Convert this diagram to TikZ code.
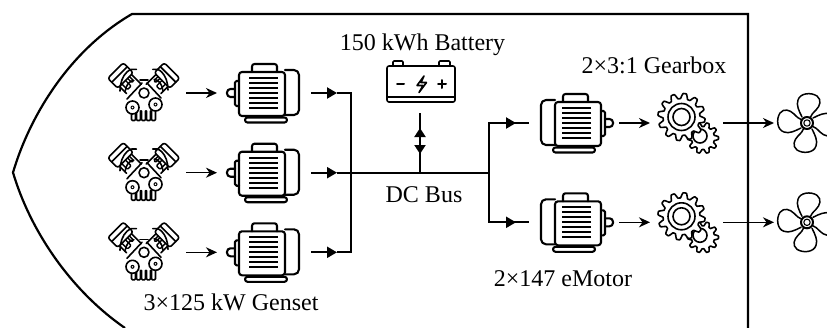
\documentclass[tikz,border=0pt]{standalone}
\usepackage{fontspec}
\setmainfont{Liberation Serif}
\usetikzlibrary{arrows.meta}
\tikzset{
  x=1pt,y=-1pt,
  icon/.style={line width=2.1pt,line join=round,line cap=round},
  bus/.style={line width=2.2pt},
  thin arrow/.style={line width=1.5pt,-{Stealth[length=11pt,width=10pt,inset=3.5pt]}},
  bus tip/.style={line width=2.2pt,-{Triangle[length=10pt,width=11pt]}},
  caption/.style={font=\fontsize{24}{28}\selectfont,inner sep=0pt,anchor=base},
  motor/.pic={
    \begin{scope}[icon]
      \draw[rounded corners=3pt] (-26,-21) rectangle (20,23);
      \draw[rounded corners=2.5pt] (-13,-21) -- (-13,-29) -- (12,-29) -- (12,-21);
      \draw[rounded corners=5pt] (20,-23) -- (34,-23) -- (34,22) -- (20,22);
      \draw[rounded corners=1.5pt] (-26,-12) -- (-30,-12) -- (-30,13) -- (-26,13);
      \draw[rounded corners=3.5pt] (-30,-4) -- (-38,-4) -- (-38,4) -- (-30,4);
      \draw[rounded corners=2.5pt] (-20,24.5) rectangle (22,29.5);
      \foreach \yy in {-15,-10,-5,0,5,10,15}{\draw[line width=2.2pt,line cap=butt] (-16,\yy) -- (13,\yy);}
    \end{scope}
    \coordinate (-in) at (-48,0);
    \coordinate (-back) at (-44,0);
    \coordinate (-out) at (46,0);
  },
  engine cyl/.pic={
    \draw (-8.5,7) -- (-8.5,17);
    \draw (8.5,7) -- (8.5,21);
    \draw[line width=1.4pt,rounded corners=1pt] (-5,7) -- (-5,15) -- (0,15) -- (0,7);
    \draw[line width=1.4pt,rounded corners=1pt] (3,7) -- (3,13) -- (5.5,13) -- (5.5,7);
    \draw[rounded corners=2.5pt] (-11,-7) rectangle (11,7);
    \draw (-11,-1.5) -- (11,-1.5);
  },
  engine/.pic={
    \begin{scope}[icon,line width=1.6pt]
      \pic[rotate=45] at (-23.5,-17.5) {engine cyl};
      \pic[rotate=-45,xscale=-1] at (23,-17.5) {engine cyl};
      \draw (-4,-13) -- (4,-13);
      \draw (-17,6) -- (-2,-10);
      \draw (17,5) -- (3,-10);
      \draw (-24,-2) arc (180:280:14 and 22);
      \draw (24,-3) arc (0:-100:13 and 21);
      \draw (-19,-1) arc (190:270:9 and 14);
      \draw (19,-2) arc (-10:-90:9 and 14);
      \draw (0,0) circle (5);
      \foreach \fx in {-12.5,-7.5,-2.5,2.5,7.5}{
        \draw[rounded corners=1pt] (\fx,18) -- (\fx,27.5) -- (\fx+4,27.5) -- (\fx+4,18);
      }
      \draw[fill=white] (-11.5,14.5) circle (6.5);
      \draw[fill=white] (11.5,11.5) circle (6.5);
      \fill (-11.5,14.5) circle (2);
      \fill (11.5,11.5) circle (2);
      \fill[white] (-11.5,14.5) circle (0.8);
      \fill[white] (11.5,11.5) circle (0.8);
    \end{scope}
    \coordinate (-out) at (42,0);
  },
}
\newcommand{\biggear}[2]{%
  \draw[icon,line width=1.6pt,fill=white,shift={(#1,#2)}] plot[domain=0:360,samples=241] (\x+8:{21+2.6*max(-1,min(1,1.5*cos(12*\x)))}) -- cycle;}
\newcommand{\smallgear}[2]{%
  \draw[icon,line width=1.6pt,fill=white,shift={(#1,#2)}] plot[domain=0:360,samples=201] (\x:{13.5+2*max(-1,min(1,1.5*cos(10*\x)))}) -- cycle;}
\begin{document}
\begin{tikzpicture}
\clip (0,0) rectangle (827,327);
% hull
\draw[line width=2.2pt,line join=miter] (125,328) .. controls (70,290) and (30,230) .. (13,172.5) .. controls (30,115) and (70,50) .. (132,14) -- (748,14) -- (748,328);
% gensets
\foreach \n/\yy in {1/93,2/172.7,3/252.3}{
  \pic (e\n) at (144,\yy) {engine};
  \pic (m\n) at (265,\yy) {motor};
  \draw[thin arrow] (e\n-out) -- (m\n-in);
  \coordinate (t\n) at (337,\yy);
  \draw[bus tip] (m\n-out) -- (t\n);
}
\coordinate (busl) at (351,172.7);
\coordinate (busr) at (489,172.7);
\coordinate (ctop) at (351,93);
\coordinate (cbot) at (351,252.3);
\draw[bus,line join=miter] (t1) -- (ctop) -- (cbot) -- (t3);
\draw[bus] (t2) -- (busl) -- (busr);
% battery
\begin{scope}[icon,line width=1.6pt]
  \draw[rounded corners=2pt] (387,66) rectangle (455,102);
  \draw (387,97) -- (455,97);
  \draw[rounded corners=1pt] (393,66) -- (393,61) -- (403,61) -- (403,66);
  \draw[rounded corners=1pt] (439,66) -- (439,61) -- (450,61) -- (450,66);
  \draw[line width=2pt] (397,84) -- (404,84);
  \draw[line width=2pt] (438,84) -- (446,84);
  \draw[line width=2pt] (442,80) -- (442,88);
  \draw (424,76) -- (417,85.5) -- (423,85.5) -- (419,92.5) -- (426.5,82.5) -- (421,82.5) -- (424,76);
\end{scope}
\coordinate (battb) at (420,113);
\coordinate (battu) at (420,128);
\coordinate (battd) at (420,154);
\coordinate (batbus) at (420,172.7);
\draw[line width=2pt,-{Triangle[length=9pt,width=11pt]}] (batbus) -- (battu);
\draw[line width=2pt] (battu) -- (battb);
\draw[line width=2pt,-{Triangle[length=9pt,width=11pt]}] (battb) -- (battd);
% drive side
\foreach \n/\yy in {1/123,2/222.3}{
  \pic[xscale=-1] (d\n) at (575,\yy) {motor};
  \coordinate (dt\n) at (516,\yy);
  \coordinate (dc\n) at (489,\yy);
  \coordinate (dend\n) at (529,\yy);
  \draw[bus tip] (dc\n) -- (dt\n);
  \draw[bus] (dt\n) -- (dend\n);
  \coordinate (gi\n) at (650,\yy);
  \coordinate (go\n) at (723,\yy);
  \coordinate (pi\n) at (774,\yy);
  \draw[thin arrow] (d\n-back) -- (gi\n);
  \draw[thin arrow] (go\n) -- (pi\n);
  % gears
  \smallgear{703}{\yy+15}
  \draw[icon,line width=1.6pt] (700,\yy+13) circle (7);
  \biggear{681.5}{\yy-6}
  \draw[icon,line width=1.6pt] (681.5,\yy-6) circle (13.5);
  \draw[icon,line width=1.6pt] (681.5,\yy-6) circle (8.5);
  % propeller
  \begin{scope}[shift={(807,\yy)},icon,line width=1.5pt]
    \foreach \r in {0,90,180,270}{
      \begin{scope}[rotate=\r]
        \draw (-5,-6) .. controls (-8,-12) and (-11,-18) .. (-9,-23) .. controls (-7,-30) and (4,-31) .. (10,-27) .. controls (15,-23) and (13,-17) .. (9,-13) .. controls (6,-10) and (4,-8) .. (3,-5);
      \end{scope}
    }
    \draw[line width=2pt,fill=white] (0,0) circle (6);
    \draw[line width=1.1pt] (0,0) circle (3.2);
  \end{scope}
}
\draw[bus,line join=miter] (dt1) -- (dc1) -- (dc2) -- (dt2);
% labels
\node[caption] (lb) at (422.5,50) {150 kWh Battery};
\node[caption] (lg) at (654,73) {2×3:1 Gearbox};
\node[caption] (ld) at (424,202) {DC Bus};
\node[caption] (le) at (563,286) {2×147 eMotor};
\node[caption] (lr) at (231,310) {3×125 kW Genset};
\end{tikzpicture}
\end{document}
